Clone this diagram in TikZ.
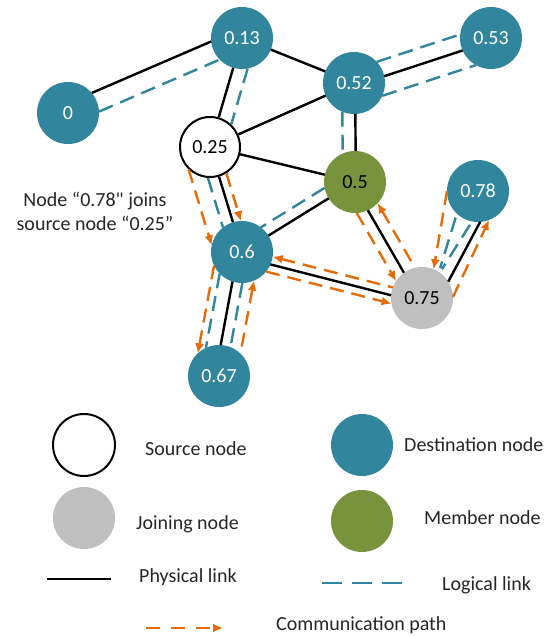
\documentclass[tikz,border=0pt]{standalone}
\usepackage{fontspec}
\setmainfont{Carlito}[Ligatures=TeXOff]
\usetikzlibrary{calc,arrows.meta}
\definecolor{tealc}{RGB}{49,133,156}
\definecolor{greenc}{RGB}{119,147,60}
\definecolor{grayc}{RGB}{191,191,191}
\definecolor{orangec}{RGB}{228,108,10}
\newcommand\olink[4]{%
  \pgfmathsetmacro\olt{sqrt(max(961-(#4)*(#4),0))}%
  \draw[#1] ($(#2)!\olt pt!(#3)!#4pt!90:(#3)$) -- ($(#3)!\olt pt!(#2)!#4pt!-90:(#2)$);}
\begin{document}
\begin{tikzpicture}[x=1pt,y=-1pt,
  every node/.style={font=\fontsize{20}{24}\selectfont},
  nd/.style={circle,minimum size=62pt,inner sep=0pt,outer sep=0pt},
  dest/.style={nd,fill=tealc,text=white},
  memb/.style={nd,fill=greenc,text=black},
  joinnd/.style={nd,fill=grayc,text=black},
  src/.style={nd,draw=black,line width=2pt,fill=white,minimum size=60pt},
  lbl/.style={anchor=base west,inner sep=0pt,text=black!85},
  phys/.style={line width=2.4pt,black},
  logic/.style={line width=2.4pt,tealc,dash pattern=on 15pt off 8pt},
  comm/.style={line width=2.4pt,orangec,dash pattern=on 14pt off 8pt},
  arr/.style={-{Latex[length=10pt,width=9pt]}},
  rarr/.style={{Latex[length=10pt,width=9pt]}-}
]
\fill[white] (0,0) rectangle (549,636);
\useasboundingbox (0,0) rectangle (549,636);

% nodes
\node[dest] (n0) at (68,113) {0};
\node[dest] (n013) at (242,38) {0.13};
\node[dest] (n053) at (491,38) {0.53};
\node[dest] (n052) at (354,83) {0.52};
\node[src] (n025) at (210,147) {0.25};
\node[memb] (n05) at (355,182) {0.5};
\node[dest] (n078) at (478,191) {0.78};
\node[dest] (n06) at (242,252) {0.6};
\node[joinnd] (n075) at (422,298) {0.75};
\node[dest] (n067) at (219,376) {0.67};

% links
\olink{phys}{n0}{n013}{9}
\olink{logic}{n0}{n013}{-11}
\olink{phys}{n013}{n052}{0}
\olink{phys}{n013}{n025}{0}
\olink{logic}{n013}{n025}{14}
\olink{phys}{n052}{n053}{-3}
\olink{logic}{n052}{n053}{13}
\olink{logic}{n052}{n053}{-21}
\olink{phys}{n025}{n052}{0}
\olink{phys}{n052}{n05}{1}
\olink{logic}{n052}{n05}{-12}
\olink{phys}{n025}{n05}{0}
\olink{phys}{n025}{n06}{0}
\olink{logic}{n025}{n06}{-11}
\olink{comm,arr}{n025}{n06}{-27}
\olink{comm,arr}{n025}{n06}{8}
\olink{phys}{n05}{n06}{0}
\olink{logic}{n05}{n06}{-11}
\olink{phys}{n05}{n075}{-3}
\olink{comm,arr}{n05}{n075}{-14}
\olink{comm,rarr}{n05}{n075}{9}
\olink{phys}{n06}{n075}{-5}
\olink{comm,rarr}{n06}{n075}{3}
\olink{comm,arr}{n06}{n075}{-13}
\olink{phys}{n06}{n067}{-4}
\olink{logic}{n06}{n067}{-18}
\olink{logic}{n06}{n067}{6}
\olink{comm,arr}{n06}{n067}{-25}
\olink{comm,rarr}{n06}{n067}{17}
\draw[phys] (n075.32) -- (n078.274);
\draw[logic,shorten <=4pt,shorten >=4pt] (n078.227) -- (n075.57);
\draw[logic,shorten <=4pt,shorten >=4pt] (n078.259) -- (n075.55);
\draw[comm,arr] (n078.180) -- (n075.68);
\draw[comm,arr] (n075.2) -- (n078.291);

% annotation
\node[align=center,text=black!85] (note) at (95,211) {Node “0.78" joins\\source node “0.25”};

% legend
\node[src,minimum size=62pt] (lsrc) at (84,445) {};
\node[lbl] (tsrc) at (145,455) {Source node};
\node[dest] (ldst) at (362,445) {};
\node[lbl] (tdst) at (404,451) {Destination node};
\node[joinnd] (ljoin) at (84,518) {};
\node[lbl] (tjoin) at (136,529) {Joining node};
\node[memb] (lmem) at (362,521) {};
\node[lbl] (tmem) at (424,524) {Member node};
\coordinate (pl1) at (47,579);
\coordinate (pl2) at (111,579);
\draw[phys] (pl1) -- (pl2);
\node[lbl] (tphys) at (139,582) {Physical link};
\coordinate (ll1) at (322,583);
\coordinate (ll2) at (404,583);
\draw[logic,dash pattern=on 20pt off 10pt] (ll1) -- (ll2);
\node[lbl] (tlog) at (442,590) {Logical link};
\coordinate (cp1) at (146,628);
\coordinate (cp2) at (223,628);
\draw[comm,arr,dash pattern=on 14pt off 11pt] (cp1) -- (cp2);
\node[lbl] (tcomm) at (276,630) {Communication path};
\end{tikzpicture}
\end{document}
